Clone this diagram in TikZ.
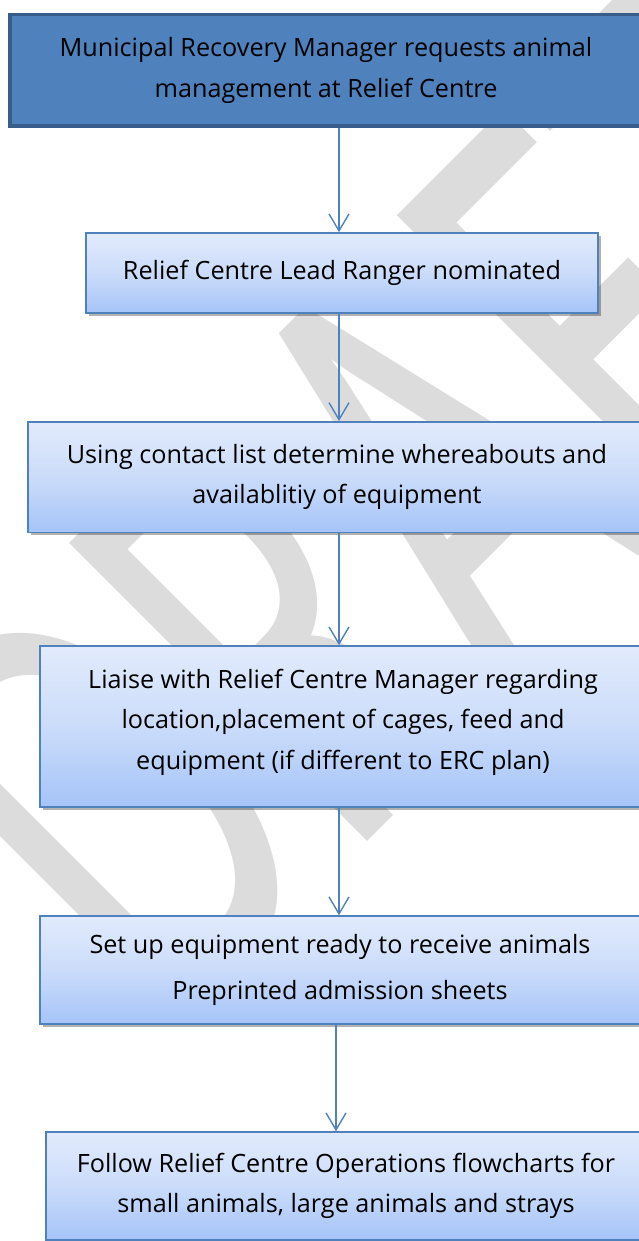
\documentclass[tikz,border=0pt]{standalone}
\usepackage{fontspec}
\setmainfont{Open Sans}
\newfontfamily\wmfamily{Carlito}
\usetikzlibrary{arrows.meta,shadows}

\definecolor{accent}{RGB}{79,129,189}
\definecolor{accentdark}{RGB}{56,93,138}
\definecolor{boxtop}{RGB}{226,235,252}
\definecolor{boxmid}{RGB}{203,220,250}
\definecolor{boxbot}{RGB}{165,196,248}
\definecolor{wmgray}{RGB}{220,220,220}

\tikzset{
  flowtext/.style={align=center, text=black, font=\fontsize{25.2}{40.5}\selectfont, inner sep=0pt},
  topbox/.style={flowtext, rectangle, draw=accentdark, line width=3.5pt, fill=accent},
  flowbox/.style={flowtext, rectangle, draw=accent, line width=1.5pt,
    top color=boxtop, bottom color=boxbot, middle color=boxmid,
    drop shadow={shadow xshift=2.5pt, shadow yshift=-3pt, opacity=0.3, fill=black}},
  arr/.style={draw=accent, line width=1.4pt, -{Straight Barb[length=17pt,width=20pt,line width=1.4pt]}},
  wmark/.style={rotate=45, anchor=base west, inner sep=0pt, text=wmgray,
    font=\wmfamily\fontsize{415}{415}\selectfont}
}

\begin{document}
\begin{tikzpicture}[x=1pt,y=-1pt]
  \useasboundingbox (0,0) rectangle (638,1241);
  \fill[white] (0,0) rectangle (638,1241);

  % watermark behind the chart: tall, stretched lettering on the diagonal
  \node[wmark] (wm) at (166,1043) {\scalebox{1}[1.583]{DRAFT}};

  % process steps
  \node[topbox, minimum width=632pt, minimum height=111.5pt] (b1) at (326,70.5)
    {Municipal Recovery Manager requests animal\\management at Relief Centre};
  \node[flowbox, minimum width=512pt, minimum height=80pt] (b2) at (342,273)
    {Relief Centre Lead Ranger nominated};
  \node[flowbox, minimum width=618pt, minimum height=110.5pt] (b3) at (337,477)
    {Using contact list determine whereabouts and\\availablitiy of equipment};
  \node[flowbox, minimum width=606pt, minimum height=161pt] (b4) at (343,726.5)
    {Liaise with Relief Centre Manager regarding\\location,placement of cages, feed and\\equipment (if different to ERC plan)\\[-26pt]\mbox{}};
  \node[flowbox, minimum width=600pt, minimum height=108pt] (b5) at (340,970)
    {Set up equipment ready to receive animals\\[5.5pt]Preprinted admission sheets};
  \node[flowbox, minimum width=600pt, minimum height=108pt] (b6) at (346,1186)
    {Follow Relief Centre Operations flowcharts for\\small animals, large animals and strays};

  % connectors
  \coordinate (ax) at (339,0);
  \coordinate (bx) at (336,0);
  \draw[arr] (b1.south -| ax) -- (b2.north -| ax);
  \draw[arr] (b2.south -| ax) -- (b3.north -| ax);
  \draw[arr] (b3.south -| ax) -- (b4.north -| ax);
  \draw[arr] (b4.south -| ax) -- (b5.north -| ax);
  \draw[arr] (b5.south -| bx) -- (b6.north -| bx);
\end{tikzpicture}
\end{document}
